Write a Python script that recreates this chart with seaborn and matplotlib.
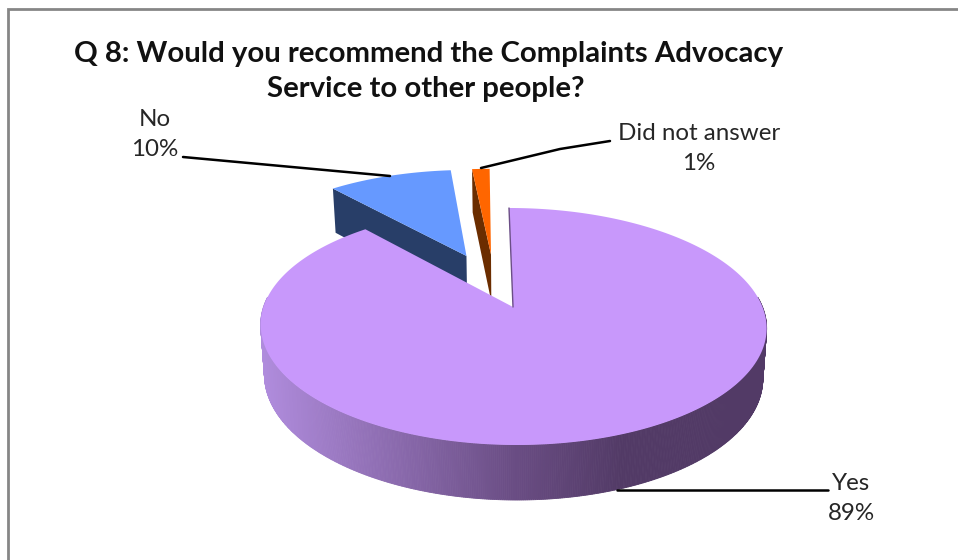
import numpy as np
import matplotlib
matplotlib.use("Agg")
import matplotlib.pyplot as plt
from matplotlib.colors import LinearSegmentedColormap
import seaborn as sns

# Survey responses, in percent
categories = ["Yes", "No", "Did not answer"]
shares = [88.7, 9.9, 1.4]
title_lines = ["Q 8: Would you recommend the Complaints Advocacy",
               "Service to other people?"]

# Faces of each slice
top_colors = ["#C898FB", "#6699FF", "#FF6600"]
cut_colors = ["#6B4E86", "#283E68", "#6B2D00"]

# Pull-out of each slice: distance in disc radii and direction in degrees
pull_dist = [0.0, 0.515, 0.50]
pull_dir = [0.0, 112.0, 100.0]

# Projection of the tilted disc onto the canvas (pixels)
CX, CY = 513.0, 307.0
SCALE_X, SCALE_Y, PERSP = 249.5, 115.3, 0.1645
SHEAR = 4.0
DEPTH = 55.0
FONT = "Lato"

sns.set_theme(style="white")
plt.rcParams["font.family"] = FONT


def project(u, v):
    v = np.asarray(v, dtype=float)
    w = 1 + PERSP * v
    return CX + SCALE_X * np.asarray(u) / w - SHEAR * v, CY - SCALE_Y * v / w


def project_low(u, v):
    """Same point on the underside of the disc."""
    x, y = project(u, v)
    w = 1 + PERSP * np.asarray(v, dtype=float)
    return CX + (x - CX) * 0.985, y + DEPTH * ((1 - PERSP) / w) ** 0.6


fig = plt.figure(figsize=(9.58, 5.6), dpi=100, facecolor="white")
ax = fig.add_axes([0, 0, 1, 1])
ax.set_xlim(0, 958)
ax.set_ylim(560, 0)
ax.axis("off")

# Slice boundaries, running clockwise from twelve o'clock
fractions = np.array(shares) / sum(shares)
ends = 90 - 360 * np.cumsum(fractions)
starts = np.r_[90.0, ends[:-1]]

rim_map = LinearSegmentedColormap.from_list(
    "rim", [(0, "#B08CDD"), (0.5, "#6A4D84"), (0.72, "#523A66"), (1, "#523A66")]
)


def draw_slice(i):
    off_u = pull_dist[i] * np.cos(np.radians(pull_dir[i]))
    off_v = pull_dist[i] * np.sin(np.radians(pull_dir[i]))
    theta = np.radians(np.linspace(starts[i], ends[i], 400))
    u = np.r_[off_u, np.cos(theta) + off_u]
    v = np.r_[off_v, np.sin(theta) + off_v]
    if i == 0:
        # Curved wall along the front of the disc, shaded left to right
        wall = np.radians(np.linspace(175, 365, 500))
        for a, b in zip(wall[:-1], wall[1:]):
            us, vs = np.cos([a, b]), np.sin([a, b])
            x1, y1 = project(us, vs)
            x2, y2 = project_low(us, vs)
            ax.fill(np.r_[x1, x2[::-1]], np.r_[y1, y2[::-1]],
                    color=rim_map((x1.mean() - 261) / 505), lw=0.6, zorder=3)
    else:
        # Cut wall on the left of the slice, the one that faces the viewer
        eu, ev = np.array([off_u, u[1]]), np.array([off_v, v[1]])
        x1, y1 = project(eu, ev)
        x2, y2 = project_low(eu, ev)
        ax.fill(np.r_[x1, x2[::-1]], np.r_[y1, y2[::-1]],
                color=cut_colors[i], lw=0, zorder=i)
    x, y = project(u, v)
    ax.fill(x, y, color=top_colors[i], lw=0, zorder=4 if i == 0 else i + 0.5)
    if i == 0:
        ax.plot(x[[0, 1]], y[[0, 1]], color=cut_colors[0], lw=1, zorder=4.5)


for i in range(len(categories)):
    draw_slice(i)

# Chart frame: left and top edges only reach the canvas
ax.plot([8.5, 8.5, 958], [560, 9, 9], color="#868686", lw=2, zorder=6,
        solid_joinstyle="miter")

# Title
for line, ty, tx in zip(title_lines, [54, 89], [429, 426]):
    ax.text(tx, ty, line, ha="center", va="center", fontsize=21.2,
            fontweight="bold", color="#111111", zorder=7)

# Category labels with leader lines
label_pos = [(851, 484, 514), (155, 120, 150), (699, 133, 164)]
leaders = [([617, 828], [490, 490]),
           ([183, 390], [157, 176]),
           ([481, 560, 610], [168, 149, 141])]
for name, share, (lx, y1, y2), (xs, ys) in zip(categories, shares, label_pos, leaders):
    ax.text(lx, y1, name, ha="center", va="center", fontsize=17.4, color="#262626", zorder=7)
    ax.text(lx, y2, f"{share:.0f}%", ha="center", va="center", fontsize=17.4, color="#262626", zorder=7)
    ax.plot(xs, ys, color="black", lw=1.8, zorder=6)

fig.savefig("out.png", dpi=100)
